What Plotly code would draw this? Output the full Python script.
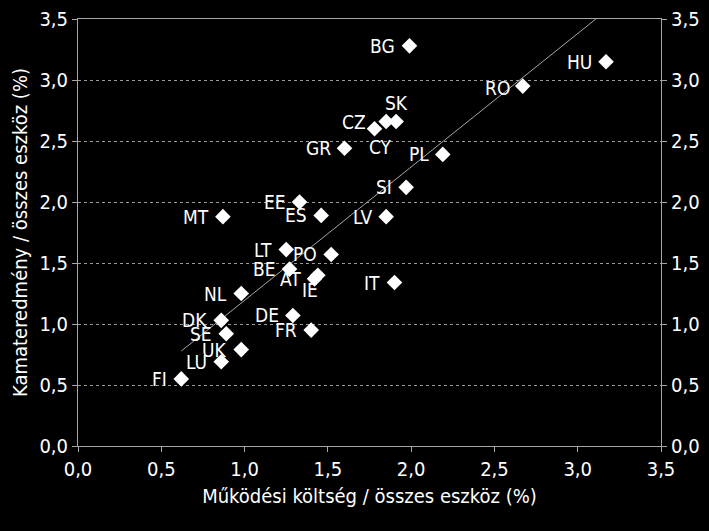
import numpy as np
import plotly.graph_objects as go

# country codes and values
countries = ["BG", "HU", "RO", "SK", "CY", "CZ", "GR", "PL", "SI", "EE", "ES", "MT", "LV",
             "LT", "PO", "BE", "AT", "IE", "IT", "NL", "DE", "DK", "FR", "SE", "UK", "LU", "FI"]
op_cost = [1.99, 3.17, 2.67, 1.91, 1.85, 1.78, 1.60, 2.19, 1.97, 1.33, 1.46, 0.87, 1.85,
           1.25, 1.52, 1.27, 1.42, 1.44, 1.90, 0.98, 1.29, 0.86, 1.40, 0.89, 0.98, 0.86, 0.62]
net_interest = [3.28, 3.15, 2.95, 2.66, 2.66, 2.60, 2.44, 2.39, 2.12, 2.00, 1.89, 1.88, 1.88,
                1.61, 1.57, 1.45, 1.37, 1.40, 1.34, 1.25, 1.07, 1.03, 0.95, 0.92, 0.79, 0.69, 0.55]

ticks = [0, 0.5, 1.0, 1.5, 2.0, 2.5, 3.0, 3.5]

# label placement tweaks (pixel shifts), default is just left of the marker
label_shift = {"SK": (0, 18, "center"), "CY": (-6, -26, "center"), "CZ": (-7, 7, "right"),
               "IE": (-8, -15, "center"), "RO": (-11, -2, "right")}

# linear trendline through the points
slope, intercept = np.polyfit(op_cost, net_interest, 1)
tx = np.array([min(op_cost), max(op_cost)])
ty = intercept + slope * tx

font = "DejaVu Sans Condensed, DejaVu Sans, sans-serif"
axis_col = "#a6a6a6"

fig = go.Figure()
fig.add_trace(go.Scatter(x=tx, y=ty, mode="lines", line=dict(color=axis_col, width=1),
                         hoverinfo="skip", showlegend=False))
fig.add_trace(go.Scatter(
    x=op_cost, y=net_interest, mode="markers",
    marker=dict(symbol="diamond", size=12, color="white", line=dict(width=0)),
    showlegend=False))
# invisible trace to drive the right-hand axis
fig.add_trace(go.Scatter(x=[0], y=[0], yaxis="y2", mode="markers",
                         marker=dict(opacity=0), hoverinfo="skip", showlegend=False))

for c, x, y in zip(countries, op_cost, net_interest):
    dx, dy, anchor = label_shift.get(c, (-12, 0, "right"))
    fig.add_annotation(x=x, y=y, text=c, showarrow=False, xanchor=anchor, yanchor="middle",
                       xshift=dx, yshift=dy, font=dict(color="white", size=19, family=font))

fig.update_layout(
    width=709, height=531,
    paper_bgcolor="black", plot_bgcolor="black",
    margin=dict(l=78, r=48, t=19, b=85),
    separators=", ",
    font=dict(family=font, size=20, color="white"),
    xaxis=dict(range=[0, 3.5], tickvals=ticks, tickformat=".1f", automargin=False,
               showgrid=False, zeroline=False, showline=True, linecolor=axis_col,
               mirror=True, ticks="outside", tickcolor=axis_col, ticklen=5,
               title=dict(text="Működési költség / összes eszköz (%)", standoff=8,
                          font=dict(size=20))),
    yaxis=dict(range=[0, 3.5], tickvals=ticks, tickformat=".1f", automargin=False,
               showgrid=True, gridcolor="#9a9a9a", griddash="dot", gridwidth=1,
               zeroline=False, showline=True, linecolor=axis_col,
               ticks="outside", tickcolor=axis_col, ticklen=5,
               title=dict(text="Kamateredmény / összes eszköz (%)", standoff=6,
                          font=dict(size=20))),
    yaxis2=dict(range=[0, 3.5], tickvals=ticks, tickformat=".1f", overlaying="y",
                side="right", showgrid=False, zeroline=False, showline=True, automargin=False,
                linecolor=axis_col, ticks="outside", tickcolor=axis_col, ticklen=5),
)

# drop the default page margin so the figure sits at the window's corner
fig.write_html("out.html", config={"displayModeBar": False},
               post_script="document.body.style.margin='0';document.body.style.background='black';")
